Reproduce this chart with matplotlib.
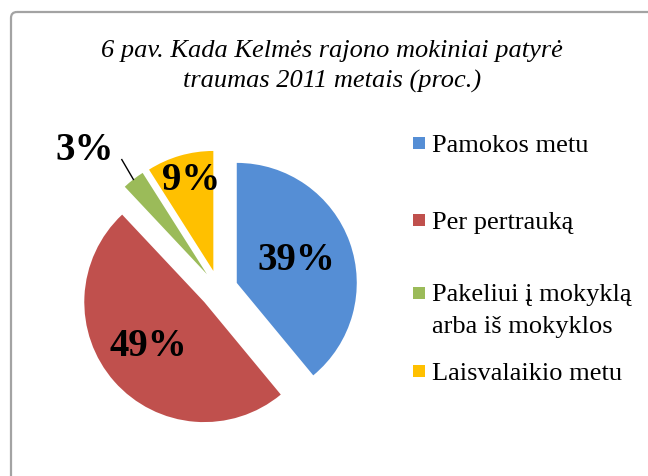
import math
import matplotlib
matplotlib.use("Agg")
import matplotlib.pyplot as plt
from matplotlib.patches import FancyBboxPatch, Rectangle

# ---- data ----
title_lines = ["6 pav. Kada Kelmės rajono mokiniai patyrė", "traumas 2011 metais (proc.)"]
categories = ["Pamokos metu", "Per pertrauką", "Pakeliui į mokyklą\narba iš mokyklos", "Laisvalaikio metu"]
values = [39, 49, 3, 9]
value_labels = ["39%", "49%", "3%", "9%"]
colors = ["#558ED5", "#C0504D", "#9BBB59", "#FFC000"]

W, H = 648, 476
SERIF = ["Liberation Serif", "DejaVu Serif"]

fig = plt.figure(figsize=(W / 100, H / 100), dpi=100)
fig.patch.set_facecolor("white")

# background axes in pixel coordinates (y down)
bg = fig.add_axes([0, 0, 1, 1])
bg.set_xlim(0, W)
bg.set_ylim(H, 0)
bg.axis("off")

border = FancyBboxPatch((11, 12), 720, 540, boxstyle="round,pad=0,rounding_size=6",
                        fill=False, edgecolor="#A3A3A3", linewidth=1.6)
bg.add_patch(border)

# title
for i, line in enumerate(title_lines):
    bg.text(332, 57 + 31 * i, line, ha="center", va="baseline", fontsize=19,
            style="italic", family=SERIF, color="black")

# pie axes: 1 data unit = radius (120 px)
R = 120.0
cx, cy = 218.7, H - 289.4
pa = fig.add_axes([0, 0, 1, 1])
pa.patch.set_alpha(0)
wedges, _ = pa.pie(values, colors=colors, startangle=90, counterclock=False,
                   explode=[0.16] * len(values), radius=1.0, center=(0, 0),
                   wedgeprops=dict(linewidth=0))
pa.set_xlim(-cx / R, (W - cx) / R)
pa.set_ylim(-cy / R, (H - cy) / R)
pa.set_aspect("equal", adjustable="box")
pa.axis("off")

def at(w, frac, dang=0.0):
    m = math.radians((w.theta1 + w.theta2) / 2 + dang)
    return (w.center[0] + frac * w.r * math.cos(m), w.center[1] + frac * w.r * math.sin(m))

label_pos = [(0.54, 4.4), (0.57, -6.0), None, (0.81, -3.0)]
for w, lab, lp in zip(wedges, value_labels, label_pos):
    if lp is None:
        continue
    x, y = at(w, lp[0], lp[1])
    pa.text(x, y, lab, ha="center", va="center_baseline", fontsize=28,
            fontweight="bold", family=SERIF)

# small slice label with leader line
g = wedges[2]
p0 = at(g, 1.0)
p1 = at(g, 1.19, -1.2)
pa.plot([p0[0], p1[0]], [p0[1], p1[1]], color="black", linewidth=1.0)
pa.text(p1[0] - 8 / R, p1[1], value_labels[2], ha="right", va="baseline",
        fontsize=28, fontweight="bold", family=SERIF)

# legend drawn manually
row_y = [143, 220, 293, 371]
for col, lab, ry in zip(colors, categories, row_y):
    bg.add_patch(Rectangle((412.5, ry - 6.2), 12.5, 12.5, facecolor=col, edgecolor="none"))
    for k, part in enumerate(lab.split("\n")):
        bg.text(432, ry + 8.5 + 31 * k, part, ha="left", va="baseline", fontsize=19,
                family=SERIF)

fig.savefig("out.png", dpi=100)
